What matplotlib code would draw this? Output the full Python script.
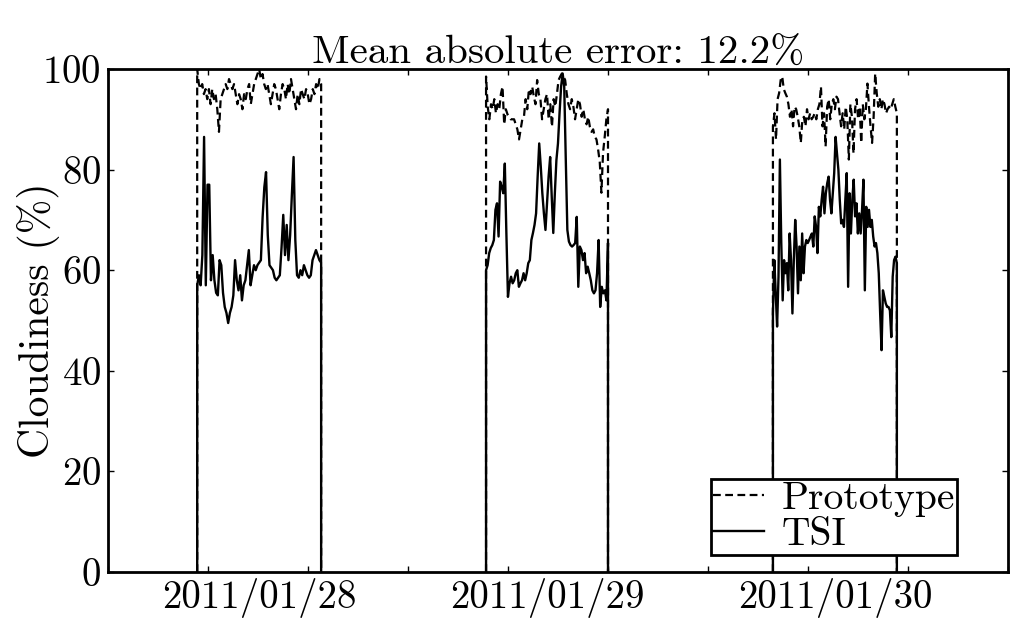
import numpy as np
import pandas as pd
import matplotlib
matplotlib.use("Agg")
import matplotlib.pyplot as plt
import matplotlib.dates as mdates
from matplotlib.ticker import FixedLocator, NullFormatter

plt.rcParams["font.family"] = "cmr10"
plt.rcParams["mathtext.fontset"] = "cm"
plt.rcParams["axes.formatter.use_mathtext"] = True

# daylight windows (local time)
days = ["2011-01-28", "2011-01-29", "2011-01-30"]
sunrise = ["06:50", "06:55", "06:50"]
sunset = ["17:10", "17:05", "17:10"]

# cloudiness (%), one list per day
tsi_28 = [57, 59, 57, 63, 86.5, 57, 77, 77, 58, 63, 58, 55.5, 55, 62, 61, 55.5, 52.7, 51.5, 49.5,
          51.5, 52.7, 55, 62, 58, 56, 59, 54, 57, 58, 61, 64, 57, 59, 61, 60, 61, 61.5, 62, 70.5,
          76.5, 79.5, 67, 61, 60.5, 60, 58.5, 58, 58.5, 59, 64.5, 71, 63, 69, 62, 67, 75, 82.5, 66,
          59, 58.5, 60, 59, 61, 60, 59, 58.5, 59, 62, 63, 64, 63, 62, 61.5]
proto_28 = [100, 97, 96, 97, 95, 96, 94, 96, 93, 96, 94, 95, 92, 87.5, 94, 95, 96, 97, 96, 98, 97, 96,
            97, 95, 93, 95, 94, 92, 95, 94, 96, 97, 93, 95, 97, 98, 99, 100, 98, 99, 97, 96, 97, 95,
            93, 95, 97, 96, 94, 92, 95, 97, 96, 94, 97, 95, 98, 96, 94, 92, 95, 93, 96, 95, 94, 96,
            95, 93, 94, 96, 95, 97, 96, 98, 97]

tsi_29 = [60, 61, 63.4, 64.4, 65, 66, 72, 73.3, 66.7, 77.6, 76.6, 75.3, 81.2, 67.3, 54.7, 57.4, 58.7,
          57.4, 58, 59.4, 60, 56.7, 57.4, 58, 59.4, 58, 59.4, 61.4, 62, 66, 67.4, 69, 71.3, 78.6,
          85.2, 80.6, 75.3, 71.3, 68, 73.3, 78.6, 82.5, 74.7, 67.4, 75.3, 81.9, 85.2, 91.2, 96.5,
          99.1, 96.5, 81.9, 68, 65.7, 65, 64.7, 65, 65.4, 70.6, 56.7, 64.7, 64, 62, 63.4, 59.4,
          60.7, 59.4, 58, 56, 55.4, 56, 59.4, 66, 52.7, 56.7, 55.4, 56, 54, 65.4]
proto_29 = [98.5, 92.5, 90, 93, 92, 94, 91.2, 93, 92, 95, 96.5, 89, 92, 91, 90.5, 90, 90, 90, 89, 88,
            86, 88, 90, 90.5, 94, 92, 96, 95, 96.5, 94.5, 93, 97.8, 95, 94, 90, 92, 94, 95, 90, 93,
            88.5, 94, 92.5, 95, 97.8, 98.5, 99.1, 98.5, 97.8, 95, 93, 92, 94, 92.5, 90, 92, 94, 93,
            90.5, 92, 90, 89, 90.5, 88.5, 87.5, 88, 86.5, 86, 84, 81.5, 75.4, 83.4, 86.5, 90, 92]

tsi_30 = [51.4, 62, 55.4, 48.8, 58.7, 82, 65.4, 54, 62, 59.4, 61.4, 56, 67.3, 62, 51.4, 62, 70, 64.7,
          55.4, 64.7, 58, 67.3, 59.4, 64.7, 66, 65.4, 66, 66.7, 67.3, 64.7, 70.7, 68.6, 63.4, 72.6,
          70.7, 74, 76.6, 71.3, 75.3, 77.3, 78.6, 74, 71.3, 75.3, 79.3, 86.5, 83.2, 80, 74, 69.3,
          70, 68.6, 74, 79.3, 56.7, 75.3, 67.3, 74, 78, 70.7, 73.3, 67.3, 71.3, 67.3, 72, 78, 56,
          72.6, 68.6, 72, 68.6, 70, 66.7, 64.7, 65.4, 63.4, 59.4, 51.4, 44.1, 56, 54.7, 53.4, 52.7,
          52.7, 52, 46.7, 58.7, 62, 62.7, 61.4]
proto_30 = [88.6, 91.2, 86, 94, 95.2, 97.8, 98.5, 96, 95.2, 94.5, 93, 90.5, 92, 88.6, 92.5, 92, 90.5,
            88.6, 85.3, 90, 90.5, 88.6, 92, 90, 91.2, 90, 90.5, 91.2, 90, 92, 93, 96.5, 88.6, 91.2,
            84.6, 92.5, 94, 90, 93, 94, 92, 94.5, 94, 91.2, 88.6, 91.2, 88, 92.5, 90, 82, 93, 90.5,
            83.2, 92, 94, 90, 92.5, 85.3, 93, 90, 92, 97.1, 92.5, 88.6, 85.3, 90.5, 99.1, 95.2, 92.5,
            94, 92, 94, 93, 91.2, 92, 92.5, 92, 93, 94, 92.5, 91.2]

tsi = [tsi_28, tsi_29, tsi_30]
proto = [proto_28, proto_29, proto_30]
mae = 12.2


def day_series(day, t0, t1, vals):
    a = mdates.date2num(pd.Timestamp(day + " " + t0))
    b = mdates.date2num(pd.Timestamp(day + " " + t1))
    t = np.concatenate([[a], np.linspace(a, b, len(vals)), [b]])
    v = np.concatenate([[0], vals, [0]])
    return t, v


fig = plt.figure(figsize=(10.24, 6.37), dpi=100)
ax = fig.add_axes([0.1055, 0.102, 0.8785, 0.7897])

for i in range(3):
    t, v = day_series(days[i], sunrise[i], sunset[i], proto[i])
    ax.plot(t, v, color="black", lw=1.6, ls=(0, (3.5, 2.0)),
            label="Prototype" if i == 0 else None)
for i in range(3):
    t, v = day_series(days[i], sunrise[i], sunset[i], tsi[i])
    ax.plot(t, v, color="black", lw=1.7, label="TSI" if i == 0 else None)

x0 = mdates.date2num(pd.Timestamp("2011-01-27 23:24"))
x1 = mdates.date2num(pd.Timestamp("2011-01-31 02:24"))
ax.set_xlim(x0, x1)
ax.set_ylim(0, 100)

noon = [mdates.date2num(pd.Timestamp(d + " 12:00")) for d in days]
ax.set_xticks(noon)
ax.set_xticklabels([d.replace("-", "/") for d in days])
ax.xaxis.set_minor_locator(FixedLocator(np.linspace(x0, x1, 10)))
ax.xaxis.set_minor_formatter(NullFormatter())
ax.set_yticks([0, 20, 40, 60, 80, 100])

ax.tick_params(axis="x", which="major", length=0, pad=4, labelsize=28)
ax.tick_params(axis="x", which="minor", direction="in", length=4, width=1, top=True, bottom=True)
ax.tick_params(axis="y", direction="in", length=4, width=1, left=True, right=True,
               pad=5, labelsize=28)
for s in ax.spines.values():
    s.set_linewidth(2)

ax.set_ylabel("Cloudiness (%)", fontsize=30, labelpad=-13)
ax.set_title("Mean absolute error: %.1f%%" % mae, fontsize=29.5, pad=4)

leg = ax.legend(loc="lower right", bbox_to_anchor=(0.944, 0.034), borderaxespad=0,
                fontsize=28.5, fancybox=False, framealpha=1, edgecolor="black",
                handlelength=1.3, handletextpad=0.45, labelspacing=0.0, borderpad=0.05)
leg.get_frame().set_linewidth(2)

fig.savefig("out.png", dpi=100)
